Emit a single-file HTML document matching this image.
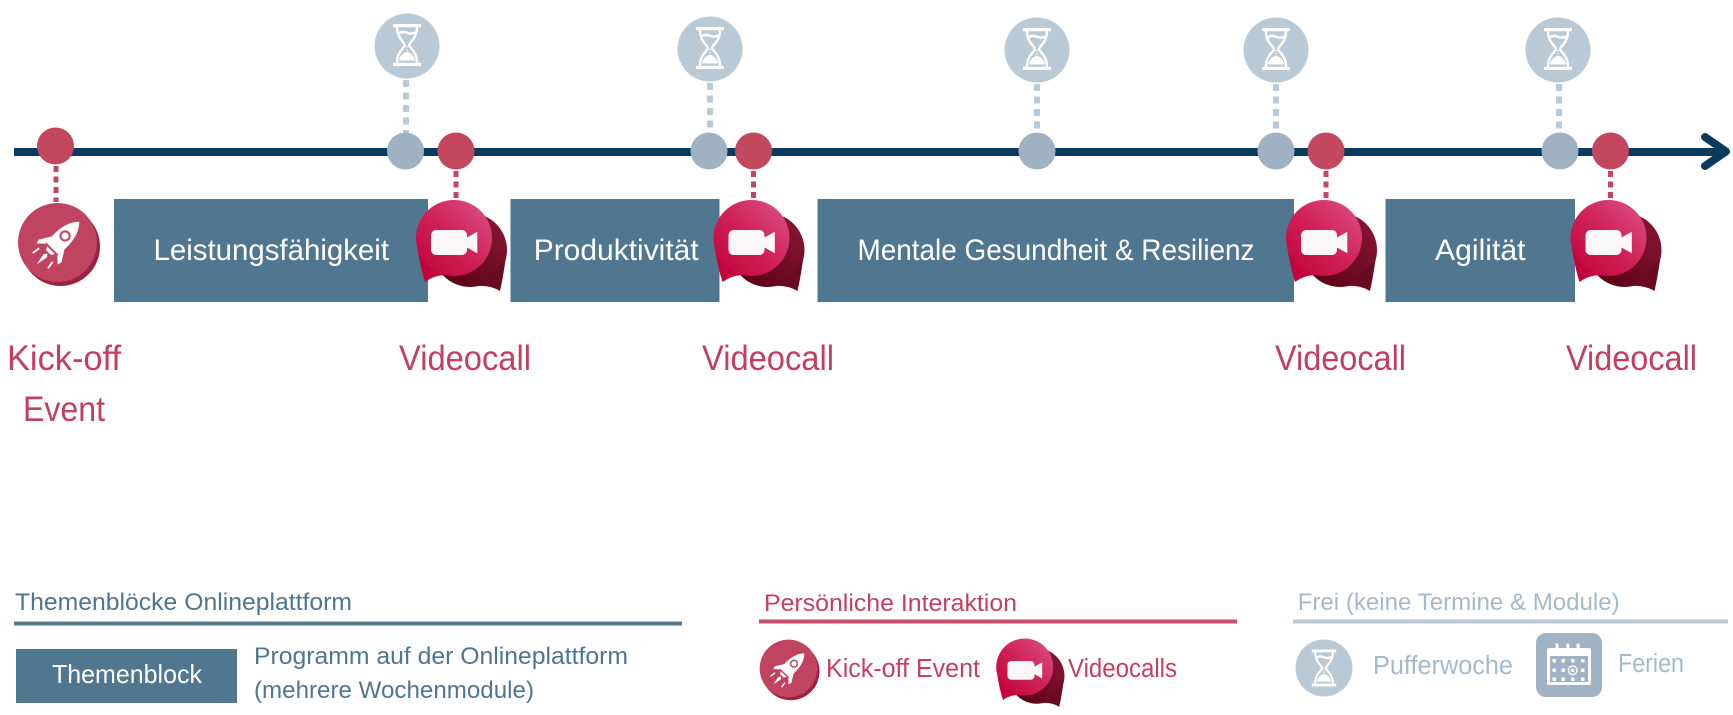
<!DOCTYPE html>
<html>
<head>
<meta charset="utf-8">
<style>
  html,body{margin:0;padding:0;background:#fff;}
  svg{display:block;}
  text{font-family:"Liberation Sans", sans-serif;}
</style>
</head>
<body>
<svg width="1733" height="715" viewBox="0 0 1733 715" xmlns="http://www.w3.org/2000/svg">
  <defs>
    <linearGradient id="gFront" x1="0" y1="1" x2="1" y2="0">
      <stop offset="0" stop-color="#c0003a"/>
      <stop offset="0.5" stop-color="#cf2258"/>
      <stop offset="1" stop-color="#dc5489"/>
    </linearGradient>
    <linearGradient id="gBack" x1="0" y1="1" x2="1" y2="0">
      <stop offset="0" stop-color="#540010"/>
      <stop offset="1" stop-color="#8c1838"/>
    </linearGradient>

    <!-- video bubble, origin = front circle center -->
    <g id="bubble">
      <circle cx="16" cy="12" r="37" fill="url(#gBack)"/>
      <path d="M51.5,22 Q49,40 46,53 Q36,47 24,48 Z" fill="#6a0a22"/>
      <path d="M-36.7,10 Q-33,32 -29,44 Q-18,36 -6,37.5 Z" fill="#c4023d"/>
      <circle cx="0" cy="0" r="38" fill="url(#gFront)"/>
      <rect x="-23" y="-8" width="36" height="25" rx="5" fill="#fbf6f7"/>
      <polygon points="12,0 23.3,-6.3 23.3,15.3 12,9" fill="#fbf6f7"/>
    </g>

    <!-- rocket disc, origin = center -->
    <g id="rocket">
      <circle cx="3" cy="4" r="39.5" fill="#9c2140"/>
      <circle cx="0" cy="0" r="39.5" fill="#c0445f"/>
      <g transform="translate(0.5,0.5) rotate(45)" fill="#fff">
        <path d="M0,-30 C8,-22 10.5,-10 8.5,8 L-8.5,8 C-10.5,-10 -8,-22 0,-30 Z"/>
        <path d="M-8.5,-1 L-16,11 L-15,15.5 L-8.5,9.5 Z"/>
        <path d="M8.5,-1 L16,11 L15,15.5 L8.5,9.5 Z"/>
        <path d="M-5.5,10 L5.5,10 L3.5,13.5 L-3.5,13.5 Z"/>
        <path d="M0,15 L-2.4,18 L0,30 L2.4,18 Z"/>
        <rect x="-10.5" y="17" width="1.8" height="8" transform="rotate(8 -10 17)"/>
        <rect x="8.7" y="17" width="1.8" height="8" transform="rotate(-8 10 17)"/>
        <circle cx="0" cy="-10" r="4.6" fill="none" stroke="#c0445f" stroke-width="2"/>
      </g>
    </g>

    <!-- hourglass icon, origin = center -->
    <g id="hg">
      <rect x="-14" y="-21" width="28" height="3.2" fill="#fff"/>
      <rect x="-14" y="17.8" width="28" height="3.2" fill="#fff"/>
      <path d="M-10,-18 C-10,-6 -2.2,-3 -2.2,0 C-2.2,3 -10,6 -10,18 M10,-18 C10,-6 2.2,-3 2.2,0 C2.2,3 10,6 10,18" fill="none" stroke="#fff" stroke-width="2.4"/>
      <path d="M-8.3,-13.2 Q-4,-15.6 0,-13.6 Q4,-11.6 8.3,-13.8 L7.8,-11 Q4,-9.2 0,-11 Q-4,-12.8 -7.9,-10.6 Z" fill="#fff"/>
      <path d="M-8,15.5 Q-7,9 0,6.5 Q7,9 8,15.5 Z" fill="#fff"/>
      <line x1="0" y1="1" x2="0" y2="6" stroke="#fff" stroke-width="1.2" stroke-dasharray="1.5 1.5"/>
    </g>
  </defs>

  <!-- timeline -->
  <line x1="14" y1="152" x2="1724" y2="152" stroke="#0b3a5f" stroke-width="8"/>
  <polyline points="1705,137 1726,151.5 1705,166" fill="none" stroke="#0b3a5f" stroke-width="8" stroke-linecap="round" stroke-linejoin="round"/>

  <!-- grey dotted connectors -->
  <g stroke="#b9c9d6" stroke-width="6" stroke-dasharray="7 5.5">
    <line x1="406" y1="80" x2="406" y2="133"/>
    <line x1="710" y1="83" x2="710" y2="133"/>
    <line x1="1037" y1="84" x2="1037" y2="133"/>
    <line x1="1276" y1="84" x2="1276" y2="133"/>
    <line x1="1559" y1="84" x2="1559" y2="133"/>
  </g>
  <!-- red dotted connectors -->
  <g stroke="#c2475f" stroke-width="5" stroke-dasharray="6 4.5">
    <line x1="56" y1="166" x2="56" y2="202"/>
    <line x1="456" y1="171" x2="456" y2="201"/>
    <line x1="753.5" y1="171" x2="753.5" y2="201"/>
    <line x1="1326" y1="171" x2="1326" y2="201"/>
    <line x1="1610.5" y1="171" x2="1610.5" y2="201"/>
  </g>

  <!-- hourglass circles -->
  <g fill="#b9c9d6">
    <circle cx="407" cy="46" r="32.5"/>
    <circle cx="710" cy="49" r="32.5"/>
    <circle cx="1037" cy="50" r="32.5"/>
    <circle cx="1276" cy="50" r="32.5"/>
    <circle cx="1558" cy="50" r="32.5"/>
  </g>
  <use href="#hg" transform="translate(407,45)"/>
  <use href="#hg" transform="translate(710,48)"/>
  <use href="#hg" transform="translate(1037,49)"/>
  <use href="#hg" transform="translate(1276,49)"/>
  <use href="#hg" transform="translate(1558,49)"/>

  <!-- dots on line -->
  <g fill="#a0b1c2">
    <circle cx="405.5" cy="151" r="18.5"/>
    <circle cx="709" cy="151" r="18.5"/>
    <circle cx="1037" cy="151" r="18.5"/>
    <circle cx="1276" cy="151" r="18.5"/>
    <circle cx="1560" cy="151" r="18.5"/>
  </g>
  <g fill="#c2475f">
    <circle cx="55.5" cy="146" r="18.5"/>
    <circle cx="456" cy="151" r="18.5"/>
    <circle cx="753.5" cy="151" r="18.5"/>
    <circle cx="1326" cy="151" r="18.5"/>
    <circle cx="1610.5" cy="151" r="18.5"/>
  </g>

  <!-- theme boxes -->
  <g fill="#51768f">
    <rect x="114" y="199" width="314" height="103"/>
    <rect x="510.5" y="199" width="209" height="103"/>
    <rect x="817.5" y="199" width="476.5" height="103"/>
    <rect x="1385.5" y="199" width="189.5" height="103"/>
  </g>
  <g fill="#ffffff" font-size="30">
    <text x="153.5" y="260" textLength="235.5" lengthAdjust="spacingAndGlyphs">Leistungsfähigkeit</text>
    <text x="533.7" y="260" textLength="165" lengthAdjust="spacingAndGlyphs">Produktivität</text>
    <text x="857.5" y="260" textLength="397" lengthAdjust="spacingAndGlyphs">Mentale Gesundheit &amp; Resilienz</text>
    <text x="1435" y="260" textLength="90.5" lengthAdjust="spacingAndGlyphs">Agilität</text>
  </g>

  <!-- rocket and bubbles on timeline -->
  <use href="#rocket" transform="translate(57.5,242.5)"/>
  <use href="#bubble" transform="translate(454,238)"/>
  <use href="#bubble" transform="translate(751.5,238)"/>
  <use href="#bubble" transform="translate(1324,238)"/>
  <use href="#bubble" transform="translate(1608.5,238)"/>

  <!-- timeline labels -->
  <g fill="#c23f5e" font-size="35">
    <text x="7" y="370" textLength="114" lengthAdjust="spacingAndGlyphs">Kick-off</text>
    <text x="23" y="421" textLength="82" lengthAdjust="spacingAndGlyphs">Event</text>
    <text x="399" y="370" textLength="132" lengthAdjust="spacingAndGlyphs">Videocall</text>
    <text x="702" y="370" textLength="132" lengthAdjust="spacingAndGlyphs">Videocall</text>
    <text x="1275" y="370" textLength="131" lengthAdjust="spacingAndGlyphs">Videocall</text>
    <text x="1566" y="370" textLength="131" lengthAdjust="spacingAndGlyphs">Videocall</text>
  </g>

  <!-- legend: Themenblöcke -->
  <text x="15" y="610" font-size="24.5" fill="#4f7590" textLength="337" lengthAdjust="spacingAndGlyphs">Themenblöcke Onlineplattform</text>
  <line x1="14" y1="623.5" x2="682" y2="623.5" stroke="#527892" stroke-width="4"/>
  <rect x="16" y="649" width="221" height="54" fill="#51768f"/>
  <text x="52" y="683" font-size="26" fill="#ffffff" textLength="150" lengthAdjust="spacingAndGlyphs">Themenblock</text>
  <text x="254" y="664" font-size="24.5" fill="#4f7590" textLength="374" lengthAdjust="spacingAndGlyphs">Programm auf der Onlineplattform</text>
  <text x="254" y="698" font-size="24.5" fill="#4f7590" textLength="280" lengthAdjust="spacingAndGlyphs">(mehrere Wochenmodule)</text>

  <!-- legend: Persönliche Interaktion -->
  <text x="764" y="611" font-size="24.5" fill="#c5405f" textLength="253" lengthAdjust="spacingAndGlyphs">Persönliche Interaktion</text>
  <line x1="759" y1="621.5" x2="1237" y2="621.5" stroke="#c84f6b" stroke-width="4"/>
  <use href="#rocket" transform="translate(788.5,668.5) scale(0.73)"/>
  <text x="826" y="677" font-size="25.5" fill="#c5405f" textLength="154" lengthAdjust="spacingAndGlyphs">Kick-off Event</text>
  <use href="#bubble" transform="translate(1024.7,667) scale(0.75)"/>
  <text x="1068" y="677" font-size="25.5" fill="#c5405f" textLength="109" lengthAdjust="spacingAndGlyphs">Videocalls</text>

  <!-- legend: Frei -->
  <text x="1297.7" y="610" font-size="24.5" fill="#a6b9ca" textLength="322" lengthAdjust="spacingAndGlyphs">Frei (keine Termine &amp; Module)</text>
  <line x1="1293" y1="621.5" x2="1728" y2="621.5" stroke="#b9c9d7" stroke-width="4"/>
  <circle cx="1324" cy="668" r="28.5" fill="#b9c9d6"/>
  <use href="#hg" transform="translate(1324,668) scale(0.88)"/>
  <text x="1373" y="674" font-size="25.5" fill="#a6b9ca" textLength="140" lengthAdjust="spacingAndGlyphs">Pufferwoche</text>
  <rect x="1536" y="633" width="66" height="64" rx="10" fill="#a0b2c3"/>
  <g fill="#ffffff">
    <path d="M1549,648 h40 a2,2 0 0 1 2,2 v33 a2,2 0 0 1 -2,2 h-40 a2,2 0 0 1 -2,-2 v-33 a2,2 0 0 1 2,-2 Z M1550,656 v26 h38 v-26 Z" fill-rule="evenodd"/>
    <rect x="1555.5" y="643.5" width="3" height="8" rx="1"/>
    <rect x="1566.3" y="643.5" width="3" height="8" rx="1"/>
    <rect x="1576.6" y="643.5" width="3" height="8" rx="1"/>
    <rect x="1552.5" y="659" width="3.5" height="3.5"/>
    <rect x="1561.5" y="659" width="3.5" height="3.5"/>
    <rect x="1571" y="659" width="3.5" height="3.5"/>
    <rect x="1581" y="659" width="3.5" height="3.5"/>
    <rect x="1552.5" y="668.5" width="3.5" height="3.5"/>
    <rect x="1561.5" y="668.5" width="3.5" height="3.5"/>
    <rect x="1581" y="668.5" width="3.5" height="3.5"/>
    <rect x="1552.5" y="677.5" width="3.5" height="3.5"/>
    <rect x="1561.5" y="677.5" width="3.5" height="3.5"/>
    <rect x="1571" y="677.5" width="3.5" height="3.5"/>
    <rect x="1581" y="677.5" width="3.5" height="3.5"/>
    <circle cx="1572.7" cy="670.3" r="4.3" fill="none" stroke="#fff" stroke-width="1.4"/>
    <circle cx="1572.7" cy="670.3" r="1.8"/>
  </g>
  <text x="1618" y="672" font-size="25.5" fill="#a6b9ca" textLength="66" lengthAdjust="spacingAndGlyphs">Ferien</text>
</svg>
</body>
</html>
